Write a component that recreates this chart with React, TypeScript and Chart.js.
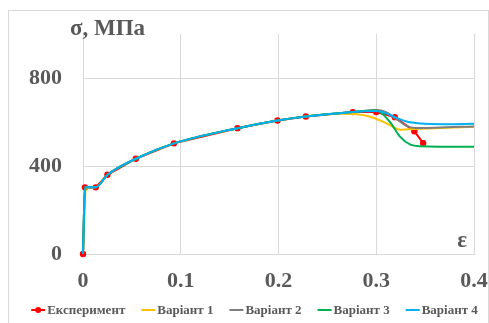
import React, { useEffect, useRef } from "react";
import { Chart, registerables } from "chart.js";

Chart.register(...registerables);

const FONT = "'Liberation Serif', 'Times New Roman', serif";
const TEXT = "#595959";
const GRID = "#d9d9d9";

const seriesNames = ["Експеримент", "Варіант 1", "Варіант 2", "Варіант 3", "Варіант 4"];
const seriesColors = ["#FF0000", "#FFC000", "#7F7F7F", "#00B050", "#00B0F0"];

const xExp = [0, 0.002, 0.013, 0.025, 0.054, 0.093, 0.158, 0.199, 0.228, 0.276, 0.3, 0.319, 0.339, 0.348];
const yExp = [0, 303, 303, 360, 433, 503, 572, 607, 625, 645, 645, 622, 558, 504];

const xV1 = [0, 0.003, 0.013, 0.025, 0.054, 0.093, 0.158, 0.199, 0.228, 0.265, 0.28, 0.293, 0.31, 0.325, 0.34, 0.4];
const yV1 = [0, 300, 303, 360, 433, 503, 572, 607, 625, 637, 635, 625, 595, 565, 568, 578];

const xV2 = [0, 0.002, 0.013, 0.025, 0.054, 0.093, 0.158, 0.199, 0.228, 0.276, 0.3, 0.31, 0.32, 0.33, 0.34, 0.36, 0.4];
const yV2 = [0, 303, 303, 360, 433, 503, 572, 607, 625, 645, 655, 645, 615, 585, 573, 574, 580];

const xV3 = [0, 0.002, 0.013, 0.025, 0.054, 0.093, 0.158, 0.199, 0.228, 0.276, 0.3, 0.314, 0.324, 0.335, 0.345, 0.4];
const yV3 = [0, 303, 303, 360, 433, 503, 572, 607, 625, 645, 652, 600, 535, 497, 490, 487];

const xV4 = [0, 0.002, 0.013, 0.025, 0.054, 0.093, 0.158, 0.199, 0.228, 0.276, 0.3, 0.31, 0.32, 0.33, 0.345, 0.37, 0.4];
const yV4 = [0, 303, 303, 360, 433, 503, 572, 607, 625, 645, 650, 640, 620, 603, 593, 590, 592];

const xTicks = [0, 0.1, 0.2, 0.3, 0.4];
const xTickLabels = ["0", "0.1", "0.2", "0.3", "0.4"];
const yTicks = [0, 400, 800];
const yTickLabels = ["0", "400", "800"];

const yTitle = "σ, МПа";
const xTitle = "ε";

const toPts = (xs: number[], ys: number[]) => xs.map((x, i) => ({ x, y: ys[i] }));

const textPlugin = {
  id: "axisTextsAndLegend",
  afterDraw(chart: any) {
    const ctx = chart.ctx;
    ctx.save();
    ctx.fillStyle = TEXT;
    ctx.font = `bold 23px ${FONT}`;
    ctx.textAlign = "left";
    ctx.textBaseline = "alphabetic";
    ctx.fillText(yTitle, 70, 35);
    ctx.textAlign = "right";
    ctx.fillText(xTitle, 467, 247);

    // legend
    ctx.font = `bold 13px ${FONT}`;
    ctx.textAlign = "left";
    ctx.textBaseline = "middle";
    const iconW = 14;
    const gapIcon = 2;
    const gapItem = 16;
    const widths = seriesNames.map((n) => ctx.measureText(n).width);
    const total = widths.reduce((a: number, w: number) => a + iconW + gapIcon + w, 0) + gapItem * (seriesNames.length - 1);
    let x = 254.5 - total / 2;
    const y = 310;
    seriesNames.forEach((name, i) => {
      ctx.strokeStyle = seriesColors[i];
      ctx.lineWidth = 2;
      ctx.beginPath();
      ctx.moveTo(x, y);
      ctx.lineTo(x + iconW, y);
      ctx.stroke();
      if (i === 0) {
        ctx.fillStyle = seriesColors[i];
        ctx.beginPath();
        ctx.arc(x + iconW / 2, y, 3, 0, Math.PI * 2);
        ctx.fill();
      }
      ctx.fillStyle = TEXT;
      ctx.fillText(name, x + iconW + gapIcon, y + 1);
      x += iconW + gapIcon + widths[i] + gapItem;
    });
    ctx.restore();
  },
};

export default function App() {
  const ref = useRef<HTMLCanvasElement | null>(null);
  useEffect(() => {
    if (!ref.current) return;
    const sets = [
      [xExp, yExp],
      [xV1, yV1],
      [xV2, yV2],
      [xV3, yV3],
      [xV4, yV4],
    ];
    const datasets = sets.map(([xs, ys], i) => ({
      label: seriesNames[i],
      data: toPts(xs, ys),
      borderColor: seriesColors[i],
      backgroundColor: seriesColors[i],
      borderWidth: 2,
      pointRadius: i === 0 ? 3.2 : 0,
      pointBorderWidth: 0,
      pointBackgroundColor: seriesColors[i],
      cubicInterpolationMode: i === 0 ? "default" : "monotone",
      tension: 0,
      order: 4 - i,
      fill: false,
      clip: false,
    }));
    const chart = new Chart(ref.current, {
      type: "line",
      data: { datasets } as any,
      plugins: [textPlugin],
      options: {
        animation: false,
        responsive: false,
        maintainAspectRatio: false,
        layout: { padding: { left: 0, right: 15, top: 34, bottom: 34 } },
        scales: {
          x: {
            type: "linear",
            min: 0,
            max: 0.4,
            afterBuildTicks: (s: any) => {
              s.ticks = xTicks.map((v) => ({ value: v }));
            },
            afterFit: (s: any) => {
              s.height = 35;
              s.paddingLeft = 0;
              s.paddingRight = 0;
            },
            ticks: {
              callback: (v: any) => xTickLabels[xTicks.findIndex((t) => Math.abs(t - v) < 1e-9)] ?? "",
              font: { family: FONT, size: 22, weight: "bold" },
              color: TEXT,
              padding: 14,
              maxRotation: 0,
            },
            grid: { color: GRID, lineWidth: 1, drawTicks: false },
            border: { color: GRID },
          },
          y: {
            type: "linear",
            min: 0,
            max: 1000,
            afterBuildTicks: (s: any) => {
              s.ticks = yTicks.map((v) => ({ value: v }));
            },
            afterFit: (s: any) => {
              s.width = 83;
              s.paddingTop = 0;
              s.paddingBottom = 0;
            },
            ticks: {
              callback: (v: any) => yTickLabels[yTicks.indexOf(v)] ?? "",
              font: { family: FONT, size: 22, weight: "bold" },
              color: TEXT,
              padding: 21,
            },
            grid: { color: GRID, lineWidth: 1, drawTicks: false },
            border: { color: GRID },
          },
        },
        plugins: {
          legend: { display: false },
          tooltip: { enabled: false },
        },
      } as any,
    });
    return () => chart.destroy();
  }, []);

  return (
    <div style={{ position: "fixed", left: 0, top: 0, width: 489, height: 323, background: "#fff" }}>
      <div
        style={{
          position: "absolute",
          left: 8,
          top: 10,
          width: 479,
          height: 330,
          border: `1px solid ${GRID}`,
        }}
      />
      <canvas ref={ref} width={489} height={323} style={{ position: "absolute", left: 0, top: 0 }} />
    </div>
  );
}
